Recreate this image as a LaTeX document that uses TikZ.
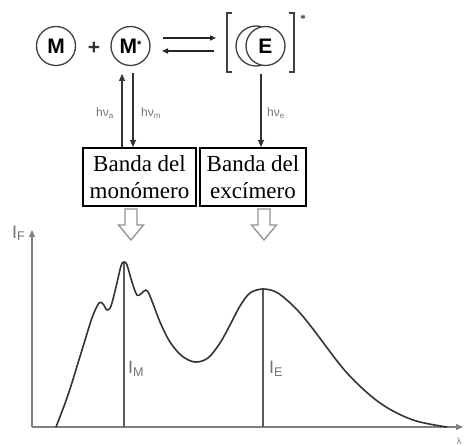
\documentclass[tikz,border=0pt]{standalone}
\usepackage{fontspec}
\setmainfont{Liberation Serif}
\setsansfont{Liberation Sans}
\usetikzlibrary{arrows.meta}
\definecolor{axisgray}{gray}{0.5}
\definecolor{curvegray}{gray}{0.2}
\definecolor{labgray}{gray}{0.45}
\begin{document}
\begin{tikzpicture}[x=1pt,y=-1pt,
  mol/.style={circle,draw=black!75,line width=1.3pt,minimum size=39pt,inner sep=0pt,
              font=\fontsize{21}{21}\selectfont\sffamily\bfseries},
  band/.style={draw=black,line width=2pt,align=center,inner sep=1pt,minimum height=58pt,
              font=\fontsize{23}{27}\selectfont},
  hnu/.style={text=labgray,font=\fontsize{12}{12}\selectfont\sffamily,inner sep=0pt},
  ilab/.style={text=labgray,font=\fontsize{18}{18}\selectfont\sffamily,inner sep=0pt},
  tip/.style={-{Triangle[length=7pt,width=6pt]}},
  eq/.style={line width=1.6pt,black!85},
  hollow/.style={draw=gray!85,line width=1.3pt,fill=white},
  brk/.style={draw=black!75,line width=1.5pt}
]
\useasboundingbox (0,0) rectangle (464,446);

% molecules
\node[mol] (M) at (56,46) {M};
\node[font=\fontsize{21}{21}\selectfont\sffamily\bfseries,text=black!80] (plus) at (94,48) {+};
\node[mol] (Ms) at (130.5,46) {M\raisebox{5pt}{\fontsize{11}{11}\selectfont*}};

% equilibrium arrows
\coordinate (eqA) at (163,38);
\coordinate (eqB) at (216,38);
\coordinate (eqC) at (214,51);
\coordinate (eqD) at (162,51);
\draw[eq,-{Triangle[length=6pt,width=5pt]}] (eqA) -- (eqB);
\draw[eq,-{Triangle[length=6pt,width=5pt]}] (eqC) -- (eqD);

% excimer
\draw[brk] (232,13) -- (227,13) -- (227,72) -- (232,72);
\draw[brk] (289,13) -- (294,13) -- (294,72) -- (289,72);
\node[circle,draw=black!75,line width=1.3pt,minimum size=40pt,inner sep=0pt] (Eback) at (256,46) {};
\node[mol,fill=white,minimum size=39pt] (E) at (265.5,46) {E};
\node[font=\fontsize{11}{11}\selectfont\bfseries,text=black!80,inner sep=0pt] (star) at (303,19) {*};

% band boxes
\node[band,minimum width=113pt] (box1) at (139.5,177) {Banda del\\monómero};
\node[band,minimum width=106pt] (box2) at (253,177) {Banda del\\excímero};

% photon arrows
\coordinate (upA) at (122,74);
\coordinate (dnM) at (133,73);
\coordinate (dnE) at (261,74);
\draw[tip,line width=1.1pt,black!80] (box1.north -| upA) -- (upA);
\draw[tip,line width=1.1pt,black!80] (dnM) -- (box1.north -| dnM);
\draw[tip,line width=1.1pt,black!80] (dnE) -- (box2.north -| dnE);
\node[hnu] (la) at (105,113) {hν\textsubscript{a}};
\node[hnu] (lm) at (151,113) {hν\textsubscript{m}};
\node[hnu] (le) at (276,113) {hν\textsubscript{e}};

% hollow arrows
\foreach \cx in {131,264}{
  \draw[hollow] (\cx-6,209) -- (\cx+6,209) -- (\cx+6,225) -- (\cx+12.5,225) -- (\cx,240)
     -- (\cx-12.5,225) -- (\cx-6,225) -- cycle;
}

% axes
\coordinate (O) at (32,427);
\coordinate (Ytop) at (32,230);
\coordinate (Xend) at (463,427);
\draw[axisgray,line width=1.4pt,-{Triangle[length=7pt,width=6pt]}] (O) -- (Ytop);
\draw[axisgray,line width=1.4pt,-{Triangle[length=7pt,width=6pt]}] (O) -- (Xend);
\node[ilab,anchor=south west] (IF) at (12,241) {I\textsubscript{F}};
\node[font=\fontsize{9}{9}\selectfont\sffamily,text=labgray,inner sep=0pt] (lam) at (459,441) {λ};

% peak lines
\coordinate (pM) at (124,262);
\coordinate (pE) at (263,289);
\draw[black!65,line width=1.1pt] (pM) -- (pM |- O);
\draw[black!65,line width=1.1pt] (pE) -- (pE |- O);
\node[ilab,anchor=west] (IM) at (128,369) {I\textsubscript{M}};
\node[ilab,anchor=west] (IE) at (269,369) {I\textsubscript{E}};

% spectrum
\draw[curvegray,line width=1.6pt,line join=round] plot[smooth,tension=0.55] coordinates {
 (56,427) (68,395) (82,350) (92,318) (99,303) (103,304) (107,310) (111,306) (116,287)
 (121,266) (124,262) (127,265) (132,282) (137,295) (142,293) (146,290) (150,296)
 (160,322) (170,342) (182,356) (195,362) (208,358) (220,343) (230,325) (240,306)
 (250,293) (263,289) (276,292) (288,301) (300,313) (313,329) (347,373) (380,403)
 (413,420) (447,427)};
\end{tikzpicture}
\end{document}
